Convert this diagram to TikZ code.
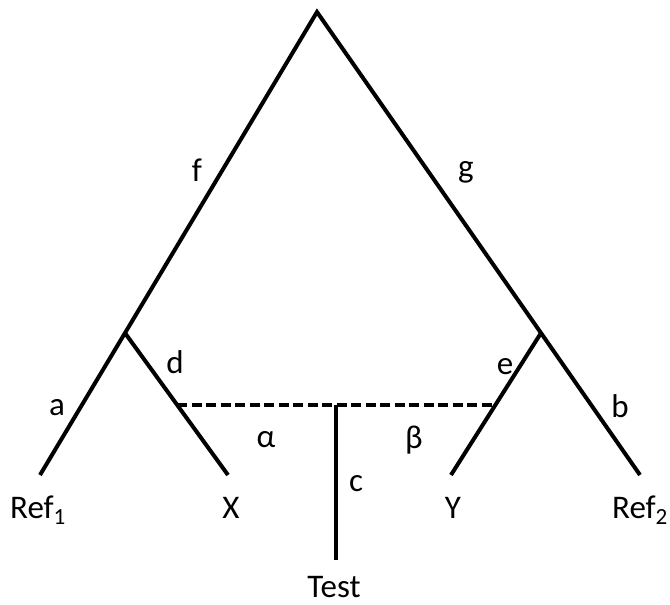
\documentclass[tikz,border=0pt]{standalone}
\usepackage{fontspec}
\setmainfont{Carlito}
\begin{document}
\begin{tikzpicture}[x=1pt,y=-1pt,
  branch/.style={line width=4pt},
  link/.style={line width=4pt,dash pattern=on 10pt off 4.5pt},
  lbl/.style={font=\fontsize{33}{40}\selectfont,inner sep=0pt}]
\useasboundingbox (0,0) rectangle (670,605);
\coordinate (top) at (317,12);
\coordinate (L) at (125,333);
\coordinate (R) at (541,333);
\coordinate (r1) at (40,475);
\coordinate (x) at (228,475);
\coordinate (y) at (451,475);
\coordinate (r2) at (640,475);
\coordinate (dl) at (177,405);
\coordinate (dr) at (496,405);
\coordinate (mid) at (336,405);
\coordinate (t) at (336,560);
\draw[branch] (r1) -- (L) -- (top) -- (R) -- (r2);
\draw[branch] (L) -- (x);
\draw[branch] (R) -- (y);
\draw[link] (dl) -- (dr);
\draw[branch] (mid) -- (t);
\node[lbl] (nf) at (197,170) {f};
\node[lbl] (ng) at (466,172) {g};
\node[lbl] (nd) at (175,362) {d};
\node[lbl] (ne) at (505,367) {e};
\node[lbl] (na) at (57,408) {a};
\node[lbl] (nb) at (620,406) {b};
\node[lbl] (nal) at (266,440) {α};
\node[lbl] (nbe) at (414,440) {β};
\node[lbl] (nc) at (356,484) {c};
\node[lbl,anchor=base west] (nr1) at (10,518) {Ref\textsubscript{1}};
\node[lbl,anchor=base] (nx) at (231,518) {X};
\node[lbl,anchor=base] (ny) at (453,518) {Y};
\node[lbl,anchor=base west] (nr2) at (612,518) {Ref\textsubscript{2}};
\node[lbl,anchor=base] (nt) at (334,597) {Test};
\end{tikzpicture}
\end{document}
